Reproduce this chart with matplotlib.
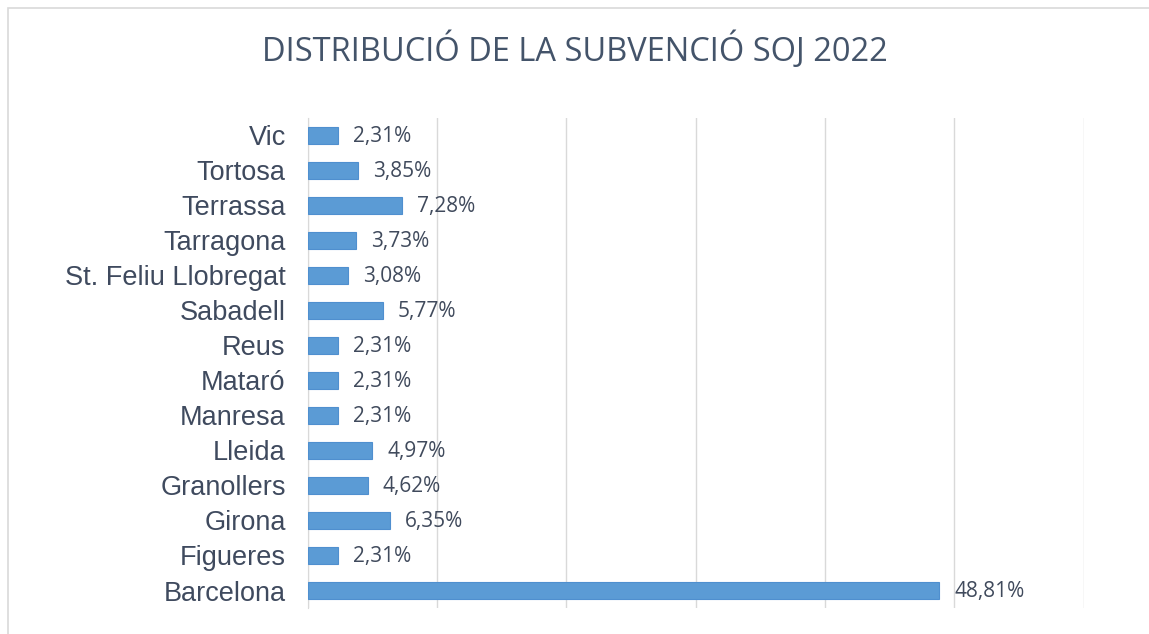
import matplotlib.pyplot as plt
from matplotlib.patches import Rectangle

# Données
ciutats = ['Barcelona', 'Figueres', 'Girona', 'Granollers', 'Lleida', 'Manresa', 'Mataró',
           'Reus', 'Sabadell', 'St. Feliu Llobregat', 'Tarragona', 'Terrassa', 'Tortosa', 'Vic']
percentatges = [48.81, 2.31, 6.35, 4.62, 4.97, 2.31, 2.31,
                2.31, 5.77, 3.08, 3.73, 7.28, 3.85, 2.31]
etiquetes = [f"{v:.2f}%".replace('.', ',') for v in percentatges]
titol = 'DISTRIBUCIÓ DE LA SUBVENCIÓ SOJ 2022'

fig = plt.figure(figsize=(11.49, 6.34), dpi=100)
ax = fig.add_axes([0.268, 0.041, 0.675, 0.773])

# cadre du graphique
fig.patches.append(Rectangle((8 / 1149, -0.1), 1.2, 0.1 + 1 - 8 / 634, transform=fig.transFigure,
                             fill=False, edgecolor='#d9d9d9', linewidth=1.2))

bars = ax.barh(ciutats, percentatges, height=0.5, color='#5b9bd5', edgecolor='#4f8fcf', linewidth=0.8, zorder=3)
for b, txt in zip(bars, etiquetes):
    ax.annotate(txt, (b.get_width(), b.get_y() + b.get_height() / 2), xytext=(11, -1),
                textcoords='offset points', va='center', ha='left',
                fontsize=15, color='#404a5c', family='Open Sans')

ax.set_xlim(0, 60)
ax.set_ylim(-0.5, len(ciutats) - 0.5)
ax.set_xticks(range(0, 61, 10))
ax.set_xticklabels([])
ax.tick_params(axis='x', length=0)
ax.tick_params(axis='y', length=0, pad=16, labelsize=19.5, labelcolor='#3f4a5e')
for lbl in ax.get_yticklabels():
    lbl.set_family('Liberation Sans')
ax.grid(axis='x', color='#d9d9d9', linewidth=1, zorder=0)
for s in ['top', 'right', 'bottom']:
    ax.spines[s].set_visible(False)
ax.spines['left'].set_color('#d9d9d9')

fig.text(0.5, 0.92, titol, ha='center', va='center', fontsize=23.5, color='#44546a', family='Open Sans')

fig.savefig('out.png', dpi=100)
